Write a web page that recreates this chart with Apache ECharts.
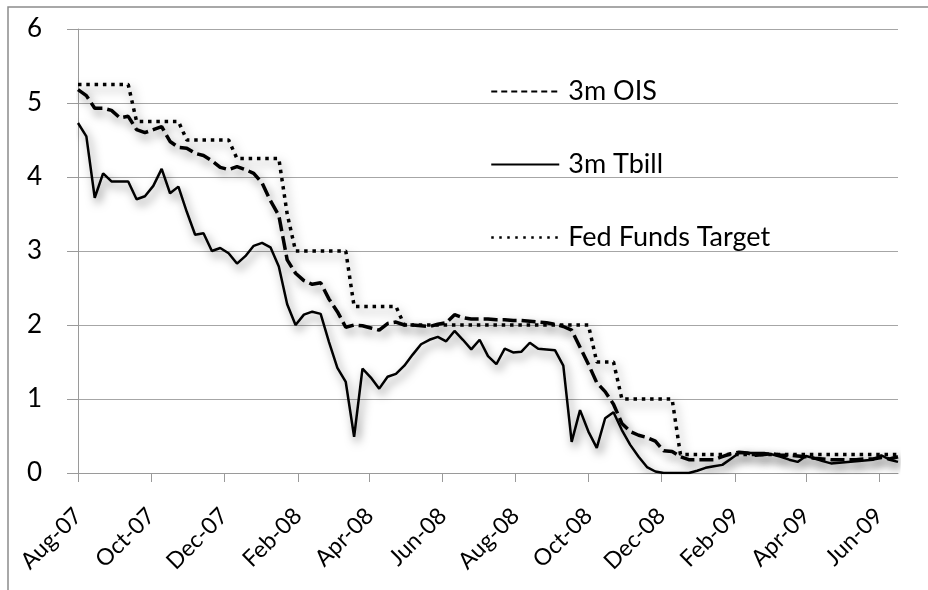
<!DOCTYPE html>
<html>
<head>
<meta charset="utf-8">
<script src="https://cdn.jsdelivr.net/npm/echarts@6/dist/echarts.min.js"></script>
<style>
  html, body { margin: 0; padding: 0; background: #fff; }
  #chart { width: 928px; height: 590px; }
</style>
</head>
<body>
<div id="chart"></div>
<script>
// weekly observations (Wednesdays)
var weeks = [
  '2007-08-01', '2007-08-08', '2007-08-15', '2007-08-22', '2007-08-29', '2007-09-05', '2007-09-12', '2007-09-19', '2007-09-26',
  '2007-10-03', '2007-10-10', '2007-10-17', '2007-10-24', '2007-10-31', '2007-11-07', '2007-11-14', '2007-11-21', '2007-11-28',
  '2007-12-05', '2007-12-12', '2007-12-19', '2007-12-26', '2008-01-02', '2008-01-09', '2008-01-16', '2008-01-23', '2008-01-30',
  '2008-02-06', '2008-02-13', '2008-02-20', '2008-02-27', '2008-03-05', '2008-03-12', '2008-03-19', '2008-03-26', '2008-04-02',
  '2008-04-09', '2008-04-16', '2008-04-23', '2008-04-30', '2008-05-07', '2008-05-14', '2008-05-21', '2008-05-28', '2008-06-04',
  '2008-06-11', '2008-06-18', '2008-06-25', '2008-07-02', '2008-07-09', '2008-07-16', '2008-07-23', '2008-07-30', '2008-08-06',
  '2008-08-13', '2008-08-20', '2008-08-27', '2008-09-03', '2008-09-10', '2008-09-17', '2008-09-24', '2008-10-01', '2008-10-08',
  '2008-10-15', '2008-10-22', '2008-10-29', '2008-11-05', '2008-11-12', '2008-11-19', '2008-11-26', '2008-12-03', '2008-12-10',
  '2008-12-17', '2008-12-24', '2008-12-31', '2009-01-07', '2009-01-14', '2009-01-21', '2009-01-28', '2009-02-04', '2009-02-11',
  '2009-02-18', '2009-02-25', '2009-03-04', '2009-03-11', '2009-03-18', '2009-03-25', '2009-04-01', '2009-04-08', '2009-04-15',
  '2009-04-22', '2009-04-29', '2009-05-06', '2009-05-13', '2009-05-20', '2009-05-27', '2009-06-03', '2009-06-10', '2009-06-17'
];

var ois3m = [
  5.18, 5.10, 4.93, 4.93, 4.90, 4.80, 4.82, 4.64, 4.60, 4.64,
  4.68, 4.48, 4.40, 4.39, 4.32, 4.29, 4.22, 4.13, 4.10, 4.14,
  4.10, 4.05, 3.92, 3.68, 3.48, 2.88, 2.70, 2.60, 2.55, 2.57,
  2.35, 2.18, 1.97, 2.00, 1.99, 1.96, 1.93, 2.02, 2.04, 2.00,
  2.00, 1.99, 1.98, 2.01, 2.03, 2.14, 2.10, 2.08, 2.08, 2.08,
  2.07, 2.07, 2.06, 2.06, 2.05, 2.04, 2.03, 2.01, 1.98, 1.93,
  1.70, 1.47, 1.22, 1.10, 0.93, 0.67, 0.56, 0.51, 0.48, 0.43,
  0.30, 0.29, 0.22, 0.18, 0.18, 0.18, 0.18, 0.22, 0.26, 0.28,
  0.27, 0.24, 0.25, 0.26, 0.24, 0.24, 0.23, 0.22, 0.20, 0.19,
  0.18, 0.18, 0.18, 0.18, 0.19, 0.19, 0.21, 0.19, 0.22
];

var tbill3m = [
  4.73, 4.55, 3.72, 4.05, 3.94, 3.94, 3.94, 3.70, 3.74, 3.88,
  4.11, 3.78, 3.87, 3.53, 3.22, 3.24, 3.00, 3.04, 2.97, 2.83,
  2.93, 3.07, 3.11, 3.05, 2.79, 2.28, 2.00, 2.14, 2.18, 2.15,
  1.77, 1.42, 1.23, 0.49, 1.41, 1.29, 1.14, 1.30, 1.34, 1.45,
  1.60, 1.74, 1.80, 1.84, 1.78, 1.92, 1.80, 1.67, 1.80, 1.58,
  1.47, 1.68, 1.63, 1.64, 1.76, 1.68, 1.67, 1.66, 1.45, 0.42,
  0.85, 0.56, 0.34, 0.74, 0.82, 0.58, 0.38, 0.22, 0.08, 0.02,
  0.00, 0.00, 0.00, 0.00, 0.03, 0.07, 0.09, 0.11, 0.19, 0.27,
  0.27, 0.27, 0.27, 0.25, 0.22, 0.18, 0.15, 0.23, 0.20, 0.16,
  0.13, 0.14, 0.15, 0.16, 0.17, 0.18, 0.24, 0.18, 0.15
];

var fedTarget = [
  5.25, 5.25, 5.25, 5.25, 5.25, 5.25, 5.25,
  4.75, 4.75, 4.75, 4.75, 4.75, 4.75,
  4.50, 4.50, 4.50, 4.50, 4.50, 4.50,
  4.25, 4.25, 4.25, 4.25, 4.25, 4.25,
  3.50,
  3.00, 3.00, 3.00, 3.00, 3.00, 3.00, 3.00,
  2.25, 2.25, 2.25, 2.25, 2.25, 2.25,
  2.00, 2.00, 2.00, 2.00, 2.00, 2.00, 2.00, 2.00, 2.00, 2.00, 2.00, 2.00,
  2.00, 2.00, 2.00, 2.00, 2.00, 2.00, 2.00, 2.00, 2.00, 2.00, 2.00,
  1.50, 1.50, 1.50,
  1.00, 1.00, 1.00, 1.00, 1.00, 1.00, 1.00,
  0.25, 0.25, 0.25, 0.25, 0.25, 0.25, 0.25, 0.25, 0.25, 0.25, 0.25, 0.25, 0.25, 0.25,
  0.25, 0.25, 0.25, 0.25, 0.25, 0.25, 0.25, 0.25, 0.25, 0.25, 0.25, 0.25, 0.25
];

var tickDates = [
  '2007-08-01', '2007-10-01', '2007-12-01', '2008-02-01', '2008-04-01', '2008-06-01',
  '2008-08-01', '2008-10-01', '2008-12-01', '2009-02-01', '2009-04-01', '2009-06-01'
];
var monthNames = ['Jan', 'Feb', 'Mar', 'Apr', 'May', 'Jun', 'Jul', 'Aug', 'Sep', 'Oct', 'Nov', 'Dec'];

function toTime(s) {
  var p = s.split('-');
  return new Date(+p[0], +p[1] - 1, +p[2]).getTime();
}

function pairs(values) {
  return values.map(function (v, i) { return [toTime(weeks[i]), v]; });
}

// soft grey drop shadow under every line, like the original
var shadow = {
  shadowColor: 'rgba(0,0,0,0.5)',
  shadowBlur: 10,
  shadowOffsetX: 3,
  shadowOffsetY: 5
};

var chart = echarts.init(document.getElementById('chart'));

chart.setOption({
  backgroundColor: '#fff',
  animation: false,
  textStyle: { fontFamily: 'Lato' },
  graphic: [{
    type: 'polyline',
    shape: { points: [[8, 590], [8, 7], [928, 7]] },
    style: { stroke: '#8c8c8c', lineWidth: 1.5, fill: null },
    silent: true
  }],
  grid: { left: 78, right: 30, top: 29, bottom: 117 },
  legend: {
    orient: 'vertical',
    left: 490,
    top: 78,
    padding: 0,
    itemWidth: 68,
    itemHeight: 26,
    itemGap: 46,
    selectedMode: false,
    itemStyle: { opacity: 0 },
    textStyle: { fontSize: 27, color: '#000', fontFamily: 'Lato', padding: [0, 0, 0, 4] },
    lineStyle: { shadowBlur: 0, shadowColor: 'transparent', shadowOffsetX: 0, shadowOffsetY: 0 },
    data: [
      { name: '3m OIS', lineStyle: { width: 2, type: [6, 4], shadowBlur: 0, shadowColor: 'transparent' } },
      { name: '3m Tbill', lineStyle: { width: 2, type: 'solid', shadowBlur: 0, shadowColor: 'transparent' } },
      { name: 'Fed Funds Target', lineStyle: { width: 2.5, type: [2.5, 5.5], shadowBlur: 0, shadowColor: 'transparent' } }
    ]
  },
  xAxis: {
    type: 'value',
    min: toTime(weeks[0]),
    max: toTime(weeks[weeks.length - 1]),
    axisLine: { lineStyle: { color: '#9a9a9a', width: 1 } },
    axisTick: {
      show: true,
      length: 9,
      customValues: tickDates.map(toTime),
      lineStyle: { color: '#9a9a9a' }
    },
    axisLabel: {
      customValues: tickDates.map(toTime),
      rotate: 45,
      margin: 39,
      fontSize: 23,
      color: '#000',
      fontFamily: 'Lato',
      formatter: function (val) {
        var d = new Date(val);
        return monthNames[d.getMonth()] + '-' + String(d.getFullYear()).slice(2);
      }
    },
    splitLine: { show: false }
  },
  yAxis: {
    type: 'value',
    min: 0,
    max: 6,
    interval: 1,
    axisLine: { show: true, lineStyle: { color: '#9a9a9a', width: 1 } },
    axisTick: { show: true, length: 11, lineStyle: { color: '#9a9a9a' } },
    axisLabel: { fontSize: 26, color: '#000', margin: 36, fontFamily: 'Lato' },
    splitLine: { lineStyle: { color: '#a6a6a6', width: 1 } }
  },
  series: [
    {
      name: '3m OIS',
      type: 'line',
      symbol: 'none',
      data: pairs(ois3m),
      itemStyle: { color: '#000' },
      lineStyle: Object.assign({ color: '#000', width: 3.5, type: [14, 5] }, shadow),
      z: 3
    },
    {
      name: '3m Tbill',
      type: 'line',
      symbol: 'none',
      data: pairs(tbill3m),
      itemStyle: { color: '#000' },
      lineStyle: Object.assign({ color: '#000', width: 2.5, type: 'solid' }, shadow),
      z: 2
    },
    {
      name: 'Fed Funds Target',
      type: 'line',
      symbol: 'none',
      data: pairs(fedTarget),
      itemStyle: { color: '#000' },
      lineStyle: Object.assign({ color: '#000', width: 3.5, type: [3.5, 4.8] }, shadow),
      z: 4
    }
  ]
});
</script>
</body>
</html>
